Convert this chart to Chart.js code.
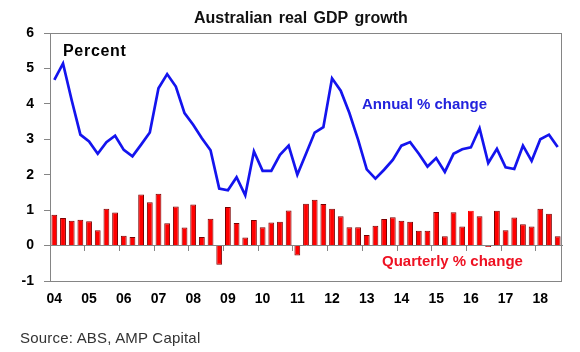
<!DOCTYPE html>
<html>
<head>
<meta charset="utf-8">
<script src="https://cdn.jsdelivr.net/npm/chart.js@4.4.1/dist/chart.umd.min.js"></script>
<style>
  body { margin: 0; background: #fff; }
  #wrap { position: relative; width: 580px; height: 352px; font-family: "Liberation Sans", Arial, sans-serif; }
  #wrap div { position: absolute; line-height: 1; white-space: nowrap; }
  #title { left: 194px; top: 10px; font-size: 16px; font-weight: bold; color: #111; word-spacing: 2px; }
  #source { left: 20px; top: 330px; font-size: 15px; color: #333; letter-spacing: 0.2px; }
  #percent { left: 63px; top: 43px; font-size: 16px; font-weight: bold; color: #000; letter-spacing: 0.7px; }
  #annual { left: 362px; top: 96px; font-size: 15px; font-weight: bold; color: #2222dd; }
  #quarterly { left: 382px; top: 253px; font-size: 15px; font-weight: bold; color: #ee1122; }
</style>
</head>
<body>
<div id="wrap">
  <canvas id="graph" width="580" height="352"></canvas>
  <div id="title">Australian real GDP growth</div>
  <div id="percent">Percent</div>
  <div id="annual">Annual % change</div>
  <div id="quarterly">Quarterly % change</div>
  <div id="source">Source: ABS, AMP Capital</div>
</div>
<script>
// quarters Mar-04 .. Sep-18
const quarters = [
  'Mar-04','Jun-04','Sep-04','Dec-04','Mar-05','Jun-05','Sep-05','Dec-05',
  'Mar-06','Jun-06','Sep-06','Dec-06','Mar-07','Jun-07','Sep-07','Dec-07',
  'Mar-08','Jun-08','Sep-08','Dec-08','Mar-09','Jun-09','Sep-09','Dec-09',
  'Mar-10','Jun-10','Sep-10','Dec-10','Mar-11','Jun-11','Sep-11','Dec-11',
  'Mar-12','Jun-12','Sep-12','Dec-12','Mar-13','Jun-13','Sep-13','Dec-13',
  'Mar-14','Jun-14','Sep-14','Dec-14','Mar-15','Jun-15','Sep-15','Dec-15',
  'Mar-16','Jun-16','Sep-16','Dec-16','Mar-17','Jun-17','Sep-17','Dec-17',
  'Mar-18','Jun-18','Sep-18'
];
const yearLabels = ['04','05','06','07','08','09','10','11','12','13','14','15','16','17','18'];

const annual = [
  4.68, 5.14, 4.10, 3.13, 2.94, 2.59, 2.92, 3.10, 2.70, 2.52,
  2.85, 3.19, 4.44, 4.84, 4.49, 3.74, 3.41, 3.03, 2.69, 1.61,
  1.56, 1.93, 1.42, 2.66, 2.11, 2.11, 2.56, 2.82, 2.00, 2.59,
  3.19, 3.34, 4.72, 4.37, 3.74, 2.99, 2.15, 1.89, 2.14, 2.42,
  2.82, 2.92, 2.59, 2.23, 2.47, 2.08, 2.59, 2.72, 2.77, 3.31,
  2.33, 2.73, 2.21, 2.16, 2.82, 2.39, 3.00, 3.13, 2.78
];
const quarterly = [
  0.87, 0.78, 0.70, 0.73, 0.69, 0.43, 1.04, 0.93, 0.28, 0.24,
  1.44, 1.22, 1.46, 0.63, 1.10, 0.51, 1.16, 0.24, 0.76, -0.54,
  1.09, 0.64, 0.23, 0.72, 0.52, 0.65, 0.67, 0.99, -0.28, 1.18,
  1.29, 1.17, 1.04, 0.83, 0.52, 0.52, 0.30, 0.56, 0.75, 0.80,
  0.70, 0.67, 0.42, 0.42, 0.95, 0.26, 0.94, 0.54, 0.98, 0.83,
  -0.04, 0.98, 0.43, 0.79, 0.60, 0.54, 1.04, 0.90, 0.26
];
const yTicks = [-1, 0, 1, 2, 3, 4, 5, 6];

const axisGrey = '#858585';

// plot frame round the chart area
const frame = {
  id: 'frame',
  afterDraw(chart) {
    const { ctx, chartArea: a } = chart;
    ctx.save();
    ctx.strokeStyle = axisGrey;
    ctx.lineWidth = 1;
    ctx.strokeRect(a.left + 0.5, a.top + 0.5, a.right - a.left - 1, a.bottom - a.top);
    ctx.restore();
  }
};

new Chart(document.getElementById('graph'), {
  type: 'bar',
  data: {
    labels: quarters,
    datasets: [
      {
        type: 'line',
        label: 'Annual % change',
        data: annual,
        borderColor: '#1414ee',
        borderWidth: 2.7,
        pointRadius: 0,
        tension: 0,
        order: 0
      },
      {
        label: 'Quarterly % change',
        data: quarterly,
        backgroundColor: '#ff0000',
        borderColor: ctx => ctx.dataIndex === 48 ? '#ff0000' : '#7a0000',
        borderWidth: 1,
        barPercentage: 0.67,
        categoryPercentage: 1,
        order: 1
      }
    ]
  },
  options: {
    responsive: false,
    animation: false,
    layout: { padding: { top: 33, right: 18, left: 0, bottom: 0 } },
    plugins: { legend: { display: false }, tooltip: { enabled: false } },
    scales: {
      x: {
        type: 'category',
        offset: true,
        grid: { display: false, drawTicks: false, offset: true },
        border: { display: false },
        ticks: {
          autoSkip: false,
          maxRotation: 0,
          padding: 10,
          color: '#000',
          font: { family: 'Liberation Sans, Arial', size: 14, weight: 'bold' },
          callback: (v, i) => i % 4 === 0 ? yearLabels[i / 4] : ''
        },
        afterFit: s => { s.height = 71; }
      },
      x0: {
        type: 'category',
        position: { y: 0 },
        offset: true,
        grid: {
          offset: true,
          drawOnChartArea: false,
          tickLength: 5,
          color: ctx => ctx.index % 4 === 0 ? axisGrey : 'rgba(0,0,0,0)'
        },
        border: { display: true, color: axisGrey, width: 1 },
        ticks: { display: false }
      },
      y: {
        min: yTicks[0],
        max: yTicks[yTicks.length - 1],
        afterBuildTicks: s => { s.ticks = yTicks.map(v => ({ value: v })); },
        grid: { drawOnChartArea: false, tickLength: 6, color: axisGrey },
        border: { display: true, color: axisGrey, width: 1 },
        ticks: {
          padding: 10,
          color: '#000',
          font: { family: 'Liberation Sans, Arial', size: 14, weight: 'bold' }
        },
        afterFit: s => { s.width = 50; }
      }
    }
  },
  plugins: [frame]
});
</script>
</body>
</html>
